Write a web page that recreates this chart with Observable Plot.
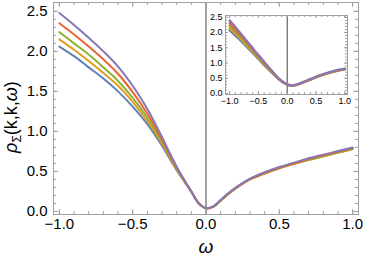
<!DOCTYPE html>
<html>
<head>
<meta charset="utf-8">
<script src="https://cdn.jsdelivr.net/npm/d3@7"></script>
<script src="https://cdn.jsdelivr.net/npm/@observablehq/plot@0.6"></script>
<style>
  html, body { margin: 0; padding: 0; background: #fff; }
  #wrap { position: relative; width: 366px; height: 262px; overflow: hidden; }
  #wrap svg { position: absolute; }
</style>
</head>
<body>
<div id="wrap"></div>
<script>
// ---- data ----
const omega = [-1, -0.9, -0.8, -0.7, -0.6, -0.5, -0.4, -0.3, -0.25, -0.2, -0.15, -0.1, -0.05,
               0, 0.05, 0.1, 0.15, 0.2, 0.3, 0.4, 0.5, 0.6, 0.7, 0.8, 0.9, 1];

const seriesNames = ["s1", "s2", "s3", "s4", "s5"];
const seriesColors = ["#5E81B5", "#E19C24", "#8FB032", "#EB6235", "#8778B3"];

// main panel
const main1 = [2.06, 1.94, 1.80, 1.66, 1.50, 1.31, 1.09, 0.82, 0.665, 0.515, 0.38, 0.245, 0.105, 0.04, 0.06, 0.14, 0.22, 0.29, 0.405, 0.48, 0.545, 0.60, 0.65, 0.695, 0.74, 0.785];
const main2 = [2.15, 2.02, 1.88, 1.73, 1.57, 1.37, 1.13, 0.85, 0.685, 0.525, 0.385, 0.245, 0.105, 0.04, 0.06, 0.135, 0.215, 0.285, 0.40, 0.475, 0.54, 0.595, 0.645, 0.69, 0.735, 0.78];
const main3 = [2.24, 2.10, 1.96, 1.80, 1.63, 1.42, 1.17, 0.87, 0.70, 0.535, 0.39, 0.25, 0.105, 0.04, 0.06, 0.135, 0.215, 0.285, 0.40, 0.475, 0.54, 0.595, 0.645, 0.69, 0.735, 0.78];
const main4 = [2.35, 2.21, 2.06, 1.90, 1.72, 1.49, 1.22, 0.90, 0.72, 0.545, 0.395, 0.25, 0.105, 0.04, 0.06, 0.14, 0.22, 0.29, 0.405, 0.48, 0.545, 0.60, 0.655, 0.70, 0.745, 0.79];
const main5 = [2.48, 2.33, 2.17, 2.00, 1.81, 1.57, 1.28, 0.93, 0.74, 0.56, 0.40, 0.25, 0.10, 0.045, 0.065, 0.145, 0.225, 0.295, 0.41, 0.49, 0.555, 0.61, 0.665, 0.71, 0.755, 0.80];

// inset panel
const inset1 = [2.08, 1.90, 1.72, 1.53, 1.33, 1.13, 0.93, 0.74, 0.65, 0.56, 0.475, 0.40, 0.34, 0.29, 0.265, 0.26, 0.275, 0.305, 0.38, 0.455, 0.53, 0.60, 0.66, 0.715, 0.76, 0.795];
const inset2 = [2.15, 1.96, 1.77, 1.57, 1.37, 1.16, 0.96, 0.76, 0.665, 0.57, 0.48, 0.405, 0.34, 0.29, 0.265, 0.26, 0.275, 0.305, 0.38, 0.455, 0.53, 0.60, 0.66, 0.715, 0.76, 0.795];
const inset3 = [2.23, 2.03, 1.83, 1.62, 1.41, 1.19, 0.98, 0.78, 0.68, 0.58, 0.49, 0.41, 0.345, 0.295, 0.27, 0.265, 0.28, 0.31, 0.38, 0.46, 0.535, 0.605, 0.665, 0.72, 0.765, 0.80];
const inset4 = [2.31, 2.10, 1.89, 1.67, 1.45, 1.23, 1.01, 0.80, 0.695, 0.59, 0.495, 0.415, 0.35, 0.30, 0.275, 0.27, 0.28, 0.31, 0.385, 0.465, 0.54, 0.61, 0.67, 0.725, 0.77, 0.81];
const inset5 = [2.40, 2.18, 1.95, 1.72, 1.49, 1.26, 1.04, 0.82, 0.71, 0.60, 0.50, 0.42, 0.35, 0.30, 0.275, 0.27, 0.285, 0.315, 0.39, 0.47, 0.55, 0.62, 0.68, 0.735, 0.78, 0.82];

const xMajor = [-1, -0.5, 0, 0.5, 1];
const yMajor = [0, 0.5, 1, 1.5, 2, 2.5];
const xMinor = d3.ticks(-1, 1, 20);
const yMinor = d3.ticks(0, 2.5, 25);

const xLabel = "ω";

// ---- build tables ----
function longTable(arrays) {
  const rows = [];
  arrays.forEach((arr, i) => arr.forEach((v, j) => rows.push({s: seriesNames[i], x: omega[j], y: v})));
  return rows;
}
const mainRows = longTable([main1, main2, main3, main4, main5]);
const insetRows = longTable([inset1, inset2, inset3, inset4, inset5]);

const fmt = d3.format(".1f");
const frameColor = "#a0a0a0";
const font = "'Liberation Sans', Arial, Helvetica, sans-serif";

function frameTicks(pw, ph, maj, mino) {
  return [
    Plot.tickX(xMinor, {x: d => d, insetTop: ph - mino, stroke: frameColor}),
    Plot.tickX(xMajor, {x: d => d, insetTop: ph - maj, stroke: frameColor}),
    Plot.tickX(xMinor, {x: d => d, insetBottom: ph - mino, stroke: frameColor}),
    Plot.tickX(xMajor, {x: d => d, insetBottom: ph - maj, stroke: frameColor}),
    Plot.tickY(yMinor, {y: d => d, insetRight: pw - mino, stroke: frameColor}),
    Plot.tickY(yMajor, {y: d => d, insetRight: pw - maj, stroke: frameColor}),
    Plot.tickY(yMinor, {y: d => d, insetLeft: pw - mino, stroke: frameColor}),
    Plot.tickY(yMajor, {y: d => d, insetLeft: pw - maj, stroke: frameColor}),
    Plot.frame({stroke: frameColor})
  ];
}

// ---- main chart ----
const W = 366, H = 262, mL = 53, mR = 8, mT = 2, mB = 48;
const mainPlot = Plot.plot({
  width: W, height: H,
  marginLeft: mL, marginRight: mR, marginTop: mT, marginBottom: mB,
  style: {fontFamily: font, fontSize: "15px", color: "black", background: "white"},
  x: {domain: [-1.04, 1.04]},
  y: {domain: [-0.0375, 2.61]},
  color: {domain: seriesNames, range: seriesColors},
  marks: [
    Plot.ruleX([0], {stroke: "#444", strokeWidth: 1}),
    Plot.lineY(mainRows, {x: "x", y: "y", z: "s", stroke: "s", strokeWidth: 2, curve: "catmull-rom"}),
    ...frameTicks(W - mL - mR, H - mT - mB, 5, 3),
    Plot.axisX({ticks: xMajor, tickFormat: fmt, tickSize: 0, tickPadding: 4, fontSize: 15, label: null}),
    Plot.axisY({ticks: yMajor, tickFormat: fmt, tickSize: 0, tickPadding: 6, fontSize: 15, label: null}),
    Plot.text([xLabel], {text: d => d, frameAnchor: "bottom", x: 0, dy: 38, fontSize: 19, fontStyle: "italic", fontFamily: font})
  ]
});
mainPlot.style.left = "0px";
mainPlot.style.top = "0px";

// y label with subscript
const yl = d3.select(mainPlot).append("text")
  .attr("transform", "translate(17,117) rotate(-90)")
  .attr("text-anchor", "middle")
  .attr("font-size", 18)
  .attr("font-family", font)
  .attr("fill", "black");
yl.append("tspan").attr("font-style", "italic").text("ρ");
yl.append("tspan").attr("font-size", 12).attr("dy", 4).text("Σ");
yl.append("tspan").attr("dy", -4).text("(k,k,");
yl.append("tspan").attr("font-style", "italic").text("ω");
yl.append("tspan").text(")");

document.getElementById("wrap").appendChild(mainPlot);

// ---- inset chart ----
const iW = 160, iH = 110, iL = 25, iR = 13, iT = 15, iB = 16;
const insetPlot = Plot.plot({
  width: iW, height: iH,
  marginLeft: iL, marginRight: iR, marginTop: iT, marginBottom: iB,
  style: {fontFamily: font, fontSize: "9px", color: "black", background: "transparent"},
  x: {domain: [-1.071, 1.047]},
  y: {domain: [-0.033, 2.56]},
  color: {domain: seriesNames, range: seriesColors},
  marks: [
    Plot.ruleX([0], {stroke: "#444", strokeWidth: 1}),
    Plot.lineY(insetRows, {x: "x", y: "y", z: "s", stroke: "s", strokeWidth: 2.3, curve: "catmull-rom"}),
    ...frameTicks(iW - iL - iR, iH - iT - iB, 3, 2),
    Plot.axisX({ticks: xMajor, tickFormat: fmt, tickSize: 0, tickPadding: 3, fontSize: 9, label: null}),
    Plot.axisY({ticks: yMajor, tickFormat: fmt, tickSize: 0, tickPadding: 3, fontSize: 9, label: null})
  ]
});
insetPlot.style.left = "200px";
insetPlot.style.top = "0px";
document.getElementById("wrap").appendChild(insetPlot);
</script>
</body>
</html>
